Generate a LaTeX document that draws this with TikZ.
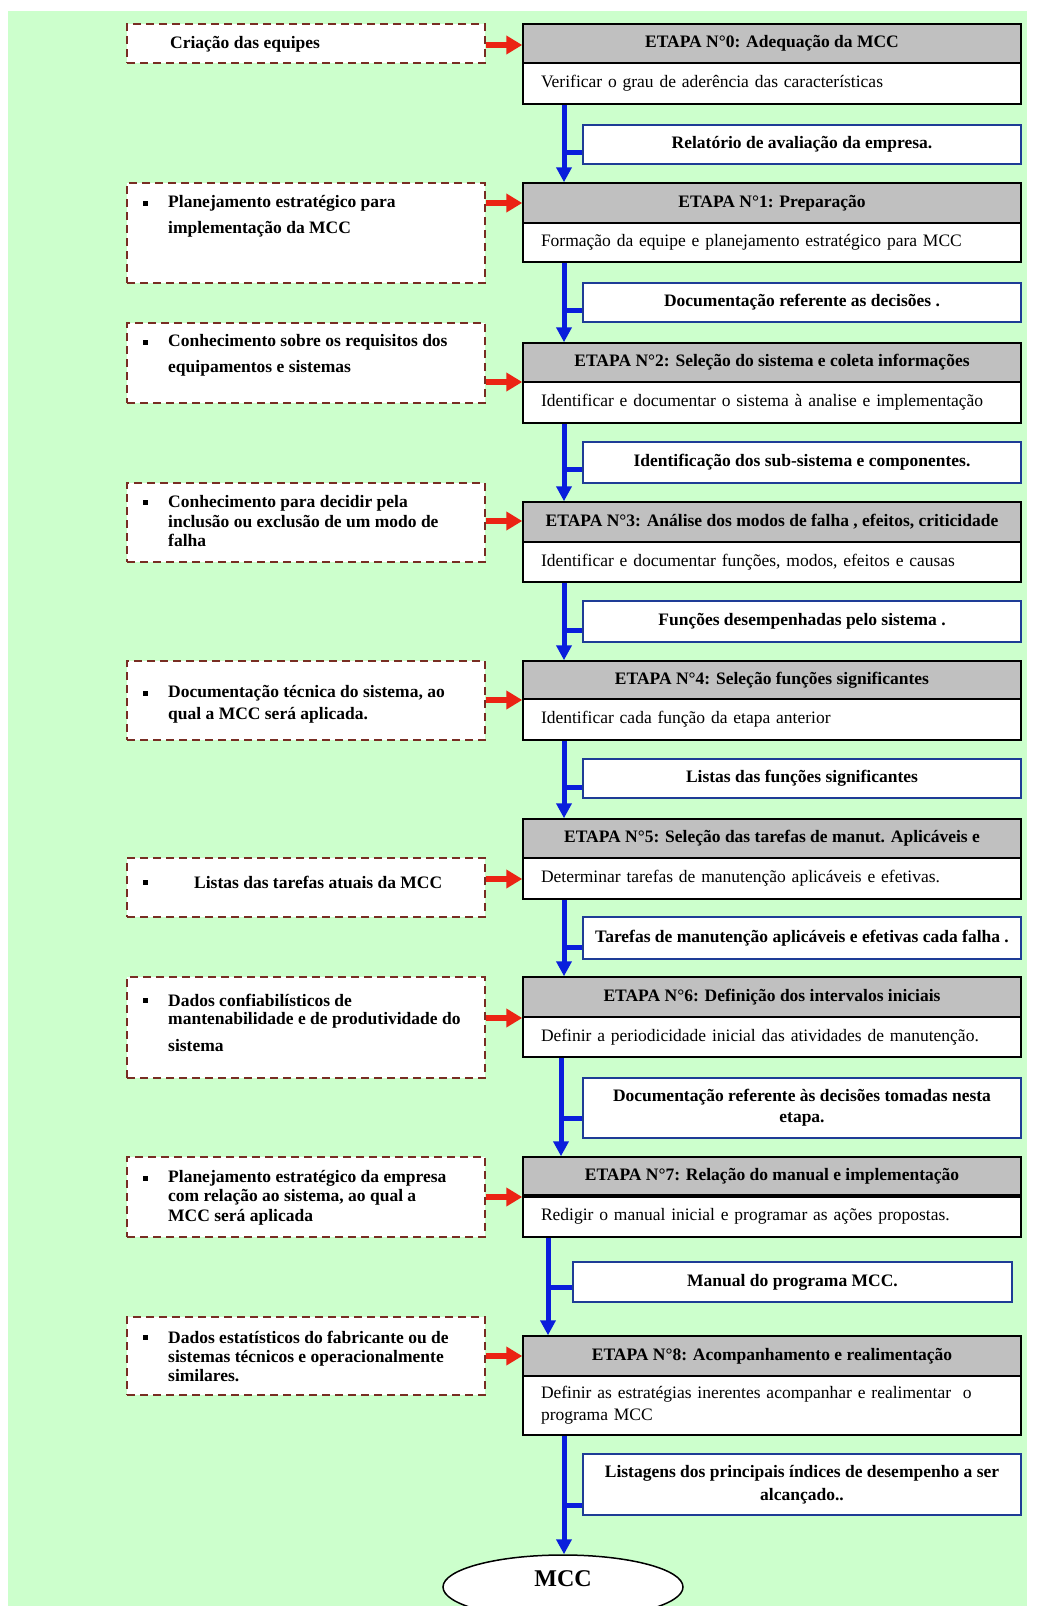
\documentclass[tikz,border=0pt]{standalone}
\usepackage{fontspec}
\setmainfont{Liberation Serif}
\usetikzlibrary{arrows.meta,shapes.geometric}
\definecolor{bggreen}{RGB}{204,255,204}
\definecolor{hdrgray}{RGB}{192,192,192}
\definecolor{flowblue}{RGB}{10,30,220}
\definecolor{boxblue}{RGB}{30,60,150}
\definecolor{arrred}{RGB}{235,35,20}
\definecolor{dashred}{RGB}{120,45,35}
\begin{document}
\begin{tikzpicture}[x=1pt,y=-1pt,
  hdr/.style={draw=black, line width=1.5pt, fill=hdrgray, minimum width=498pt, inner sep=0pt,
    font=\fontsize{17.5}{20}\selectfont\bfseries},
  bdy/.style={draw=black, line width=1.5pt, fill=white, text width=462pt, inner xsep=18pt, inner ysep=0pt,
    align=left, font=\fontsize{17.5}{22}\selectfont},
  lbox/.style={draw=dashred, line width=1.5pt, dash pattern=on 8pt off 5pt, fill=white,
    minimum width=358pt, inner sep=0pt},
  ltext/.style={align=left, inner sep=0pt, anchor=west, font=\fontsize{17.5}{19.5}\selectfont\bfseries},
  bbox/.style={draw=boxblue, line width=1.8pt, fill=white, minimum width=438pt, inner sep=0pt,
    align=center, font=\fontsize{17.5}{21}\selectfont\bfseries},
  flow/.style={draw=flowblue, line width=5pt, -{Triangle[length=15pt,width=15pt]}},
  stub/.style={draw=flowblue, line width=5pt},
  redarr/.style={draw=arrred, line width=6pt, -{Triangle[length=16pt,width=18pt]}},
  bullet/.style={fill=black}
]
\useasboundingbox (0,0) rectangle (1054,1606);
\clip (0,0) rectangle (1054,1606);
\fill[bggreen] (8,11) rectangle (1027,1606);

% ---------- stage boxes ----------
\node[hdr, minimum height=39pt] (h0) at (772,43.5) {ETAPA N°0: Adequação da MCC};
\node[bdy, minimum height=41pt] (b0) at (772,83.5) {Verificar o grau de aderência das características};
\node[hdr, minimum height=40pt] (h1) at (772,203) {ETAPA N°1: Preparação};
\node[bdy, minimum height=39pt] (b1) at (772,242.5) {Formação da equipe e planejamento estratégico para MCC};
\node[hdr, minimum height=39pt] (h2) at (772,362.5) {ETAPA N°2: Seleção do sistema e coleta informações};
\node[bdy, minimum height=41pt] (b2) at (772,402.5) {Identificar e documentar o sistema à analise e implementação};
\node[hdr, minimum height=40pt] (h3) at (772,522) {ETAPA N°3: Análise dos modos de falha , efeitos, criticidade};
\node[bdy, minimum height=40pt] (b3) at (772,562) {Identificar e documentar funções, modos, efeitos e causas};
\node[hdr, minimum height=38pt] (h4) at (772,680) {ETAPA N°4: Seleção funções significantes};
\node[bdy, minimum height=41pt] (b4) at (772,719.5) {Identificar cada função da etapa anterior};
\node[hdr, minimum height=39pt] (h5) at (772,838.5) {ETAPA N°5: Seleção das tarefas de manut. Aplicáveis e};
\node[bdy, minimum height=41pt] (b5) at (772,878.5) {Determinar tarefas de manutenção aplicáveis e efetivas.};
\node[hdr, minimum height=40pt] (h6) at (772,997) {ETAPA N°6: Definição dos intervalos iniciais};
\node[bdy, minimum height=40pt] (b6) at (772,1037) {Definir a periodicidade inicial das atividades de manutenção.};
\node[hdr, minimum height=38pt] (h7) at (772,1176) {ETAPA N°7: Relação do manual e implementação};
\node[bdy, minimum height=42pt] (b7) at (772,1216) {Redigir o manual inicial e programar as ações propostas.};
\draw[line width=3.5pt] (h7.south west) -- (h7.south east);
\node[hdr, minimum height=40pt] (h8) at (772,1356) {ETAPA N°8: Acompanhamento e realimentação};
\node[bdy, minimum height=59pt] (b8) at (772,1405.5) {Definir as estratégias inerentes acompanhar e realimentar\ \ o\\programa MCC};

% ---------- left input boxes ----------
\node[lbox, minimum height=39pt] (lb0) at (306,43.5) {};
\node[ltext] (lt0) at (170,44) {Criação das equipes};
\node[lbox, minimum height=100pt] (lb1) at (306,233) {};
\node[ltext] (lt1) at (168,216) {Planejamento estratégico para\\[6.5pt]implementação da MCC};
\node[lbox, minimum height=80pt] (lb2) at (306,363) {};
\node[ltext] (lt2) at (168,355) {Conhecimento sobre os requisitos dos\\[6.5pt]equipamentos e sistemas};
\node[lbox, minimum height=79pt] (lb3) at (306,522.5) {};
\node[ltext] (lt3) at (168,521.5) {Conhecimento para decidir pela\\inclusão ou exclusão de um modo de\\falha};
\node[lbox, minimum height=79pt] (lb4) at (306,700.5) {};
\node[ltext] (lt4) at (168,704) {Documentação técnica do sistema, ao\\[2.5pt]qual a MCC será aplicada.};
\node[lbox, minimum height=59pt] (lb5) at (306,887.5) {};
\node[ltext] (lt5) at (194,882) {Listas das tarefas atuais da MCC};
\node[lbox, minimum height=101pt] (lb6) at (306,1027.5) {};
\node[ltext] (lt6) at (168,1022.5) {Dados confiabilísticos de\\[-1.5pt]mantenabilidade e de produtividade do\\[7.5pt]sistema};
\node[lbox, minimum height=80pt] (lb7) at (306,1197) {};
\node[ltext] (lt7) at (168,1197.5) {Planejamento estratégico da empresa\\com relação ao sistema, ao qual a\\MCC será aplicada};
\node[lbox, minimum height=78pt] (lb8) at (306,1356) {};
\node[ltext] (lt8) at (168,1356) {Dados estatísticos do fabricante ou de\\[-0.5pt]sistemas técnicos e operacionalmente\\[-0.5pt]similares.};

% bullets
\foreach \by in {203,342,502,693,882,1000,1178,1337}
  \fill[bullet] (143,\by-2.5) rectangle +(5,5);

% ---------- red arrows ----------
\coordinate (r0) at (500,45);
\coordinate (r1) at (500,203);
\coordinate (r2) at (500,382);
\coordinate (r3) at (500,521);
\coordinate (r4) at (500,700);
\coordinate (r5) at (500,879);
\coordinate (r6) at (500,1018);
\coordinate (r7) at (500,1197);
\coordinate (r8) at (500,1356);
\draw[redarr] (lb0.east |- r0) -- (h0.west |- r0);
\draw[redarr] (lb1.east |- r1) -- (h1.west |- r1);
\draw[redarr] (lb2.east |- r2) -- (h2.west |- r2);
\draw[redarr] (lb3.east |- r3) -- (h3.west |- r3);
\draw[redarr] (lb4.east |- r4) -- (h4.west |- r4);
\draw[redarr] (lb5.east |- r5) -- (b5.west |- r5);
\draw[redarr] (lb6.east |- r6) -- (h6.west |- r6);
\draw[redarr] (lb7.east |- r7) -- (h7.west |- r7);
\draw[redarr] (lb8.east |- r8) -- (h8.west |- r8);

% ---------- output (blue) boxes ----------
\node[bbox, minimum height=39pt] (bb1) at (802,144.5) {Relatório de avaliação da empresa.};
\node[bbox, minimum height=39pt] (bb2) at (802,302.5) {Documentação referente as decisões .};
\node[bbox, minimum height=41pt] (bb3) at (802,462.5) {Identificação dos sub-sistema e componentes.};
\node[bbox, minimum height=41pt] (bb4) at (802,621.5) {Funções desempenhadas pelo sistema .};
\node[bbox, minimum height=39pt] (bb5) at (802,778.5) {Listas das funções significantes};
\node[bbox, minimum height=42pt] (bb6) at (802,938) {Tarefas de manutenção aplicáveis e efetivas cada falha .};
\node[bbox, minimum height=60pt] (bb7) at (802,1108) {Documentação referente às decisões tomadas nesta\\etapa.};
\node[bbox, minimum height=40pt, minimum width=439pt] (bb8) at (792.5,1282) {Manual do programa MCC.};
\node[bbox, minimum height=61pt] (bb9) at (802,1484.5) {Listagens dos principais índices de desempenho a ser\\[2pt]alcançado..};

% ---------- final ellipse ----------
\node[draw=black, line width=1.5pt, fill=white, ellipse, minimum width=240pt, minimum height=64pt,
  inner sep=0pt, text depth=16pt, font=\fontsize{24}{28}\selectfont\bfseries] (mcc) at (563,1587) {MCC};

% ---------- blue flow ----------
\coordinate (L0) at (564,0);
\coordinate (L6) at (561,0);
\coordinate (L7) at (548,0);
\coordinate (L8) at (564,0);
\draw[flow] (b0.south -| L0) -- (h1.north -| L0);
\draw[flow] (b1.south -| L0) -- (h2.north -| L0);
\draw[flow] (b2.south -| L0) -- (h3.north -| L0);
\draw[flow] (b3.south -| L0) -- (h4.north -| L0);
\draw[flow] (b4.south -| L0) -- (h5.north -| L0);
\draw[flow] (b5.south -| L0) -- (h6.north -| L0);
\draw[flow] (b6.south -| L6) -- (h7.north -| L6);
\draw[flow] (b7.south -| L7) -- (h8.north -| L7);
\draw[flow] (b8.south -| L8) -- (mcc.north -| L8);

\coordinate (s1) at (564,152);
\coordinate (s2) at (564,310);
\coordinate (s3) at (564,469);
\coordinate (s4) at (564,630);
\coordinate (s5) at (564,787);
\coordinate (s6) at (564,947);
\coordinate (s7) at (561,1118);
\coordinate (s8) at (548,1287);
\coordinate (s9) at (564,1505);
\draw[stub] (s1) -- (bb1.west |- s1);
\draw[stub] (s2) -- (bb2.west |- s2);
\draw[stub] (s3) -- (bb3.west |- s3);
\draw[stub] (s4) -- (bb4.west |- s4);
\draw[stub] (s5) -- (bb5.west |- s5);
\draw[stub] (s6) -- (bb6.west |- s6);
\draw[stub] (s7) -- (bb7.west |- s7);
\draw[stub] (s8) -- (bb8.west |- s8);
\draw[stub] (s9) -- (bb9.west |- s9);
\end{tikzpicture}
\end{document}
